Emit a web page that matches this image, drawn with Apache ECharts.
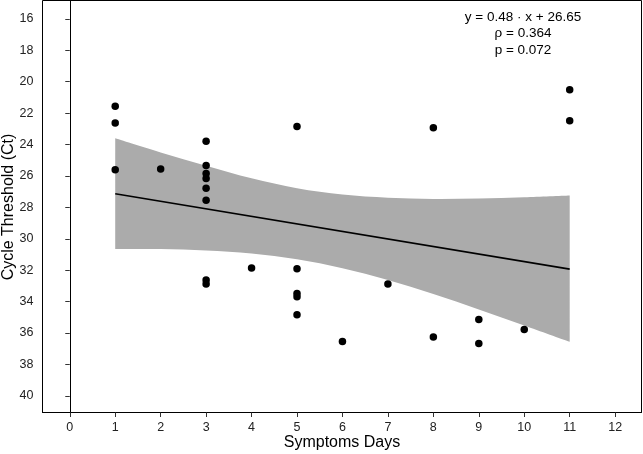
<!DOCTYPE html>
<html>
<head>
<meta charset="utf-8">
<script src="https://cdn.jsdelivr.net/npm/echarts@6/dist/echarts.min.js"></script>
<style>
html,body{margin:0;padding:0;background:#fff;}
#chart{width:643px;height:454px;}
</style>
</head>
<body>
<div id="chart"></div>
<script>
// ---- data ----
const symptomDays = [1,1,1,2,3,3,3,3,3,3,3,3,4,5,5,5,5,5,6,7,8,8,9,9,10,11,11];
const ctValues = [21.57,22.63,25.61,25.56,23.79,25.33,25.85,26.16,26.78,27.54,32.62,32.88,31.86,22.85,31.91,33.49,33.69,34.84,36.54,32.88,22.93,36.26,35.14,36.66,35.77,20.51,22.49];

const fitX = [1, 11];
const fitY = [27.13, 31.93];

const bandX = [1,2,3,4,5,6,7,8,9,10,11];
const bandUpperCt = [23.6,24.5,25.35,26.15,26.78,27.18,27.38,27.46,27.43,27.35,27.24];
const bandLowerCt = [30.65,30.65,30.74,30.93,31.3,31.87,32.62,33.52,34.5,35.52,36.56];

const xTicks = [0,1,2,3,4,5,6,7,8,9,10,11,12];
const yTicks = [16,18,20,22,24,26,28,30,32,34,36,38,40];

const annotationLines = ['y = 0.48 · x + 26.65', 'ρ = 0.364', 'p = 0.072'];

// ---- chart ----
const FONT = '"Liberation Sans", Arial, Helvetica, sans-serif';
const chart = echarts.init(document.getElementById('chart'), null, {renderer: 'canvas'});

const scatterData = symptomDays.map((d, i) => [d, ctValues[i]]);
const fitData = fitX.map((x, i) => [x, fitY[i]]);

// smooth path through pixel points (Catmull-Rom -> cubic Bezier)
function curveSegments(pts, startWithMove) {
  let d = startWithMove ? 'M' + pts[0][0] + ',' + pts[0][1] : 'L' + pts[0][0] + ',' + pts[0][1];
  for (let i = 0; i < pts.length - 1; i++) {
    const p0 = pts[Math.max(i - 1, 0)], p1 = pts[i], p2 = pts[i + 1], p3 = pts[Math.min(i + 2, pts.length - 1)];
    const c1 = [p1[0] + (p2[0] - p0[0]) / 6, p1[1] + (p2[1] - p0[1]) / 6];
    const c2 = [p2[0] - (p3[0] - p1[0]) / 6, p2[1] - (p3[1] - p1[1]) / 6];
    d += 'C' + c1[0] + ',' + c1[1] + ' ' + c2[0] + ',' + c2[1] + ' ' + p2[0] + ',' + p2[1];
  }
  return d;
}

function renderBand(params, api) {
  if (params.dataIndex !== 0) return null;
  const up = bandX.map((x, i) => api.coord([x, bandUpperCt[i]]));
  const lo = bandX.map((x, i) => api.coord([x, bandLowerCt[i]])).reverse();
  const pathData = curveSegments(up, true) + curveSegments(lo, false) + 'Z';
  return {
    type: 'path',
    shape: {pathData: pathData},
    style: {fill: '#ababab', stroke: null}
  };
}

const option = {
  animation: false,
  backgroundColor: '#fff',
  grid: {
    left: 42.5, right: 1.5, top: 0.5, bottom: 41.5,
    show: true, borderColor: '#000', borderWidth: 1, backgroundColor: 'transparent'
  },
  xAxis: {
    type: 'value',
    min: -0.6, max: 12.58,
    axisLine: {show: true, lineStyle: {color: '#000', width: 1}},
    axisTick: {show: true, length: 4.5, lineStyle: {color: '#333', width: 1}, customValues: xTicks},
    axisLabel: {
      show: true, customValues: xTicks, margin: 9,
      color: '#222', fontSize: 12.5, fontFamily: FONT
    },
    splitLine: {show: false}
  },
  yAxis: {
    type: 'value',
    inverse: true,
    min: 14.83, max: 41.06,
    axisLine: {show: true, lineStyle: {color: '#000', width: 1}},
    axisTick: {show: true, length: 4.5, lineStyle: {color: '#333', width: 1}, customValues: yTicks},
    axisLabel: {
      show: true, customValues: yTicks, margin: 9,
      color: '#222', fontSize: 12.5, fontFamily: FONT
    },
    splitLine: {show: false}
  },
  series: [
    {
      type: 'custom', name: 'band',
      data: bandX.map((x, i) => [x, bandUpperCt[i], bandLowerCt[i]]),
      encode: {x: 0, y: [1, 2]},
      renderItem: renderBand, silent: true, z: 1
    },
    {
      type: 'line', name: 'fit', data: fitData, symbol: 'none',
      lineStyle: {color: '#000', width: 1.6}, z: 2
    },
    {
      type: 'scatter', name: 'points', data: scatterData,
      symbol: 'circle', symbolSize: 7.5,
      itemStyle: {color: '#000', opacity: 1}, z: 3
    }
  ],
  graphic: [
    {
      type: 'text', x: 523, y: 9,
      style: {
        text: annotationLines.join('\n'),
        align: 'center', verticalAlign: 'top',
        lineHeight: 16.5, fontSize: 13.5, fontFamily: FONT, fill: '#000'
      }
    },
    {
      type: 'text', x: 342, y: 442.5,
      style: {
        text: 'Symptoms Days', align: 'center', verticalAlign: 'middle',
        fontSize: 16, fontFamily: FONT, fill: '#000'
      }
    },
    {
      type: 'text', x: 9, y: 207, rotation: Math.PI / 2,
      style: {
        text: 'Cycle Threshold (Ct)', align: 'center', verticalAlign: 'middle',
        fontSize: 16, fontFamily: FONT, fill: '#000'
      }
    }
  ]
};
chart.setOption(option);
</script>
</body>
</html>
